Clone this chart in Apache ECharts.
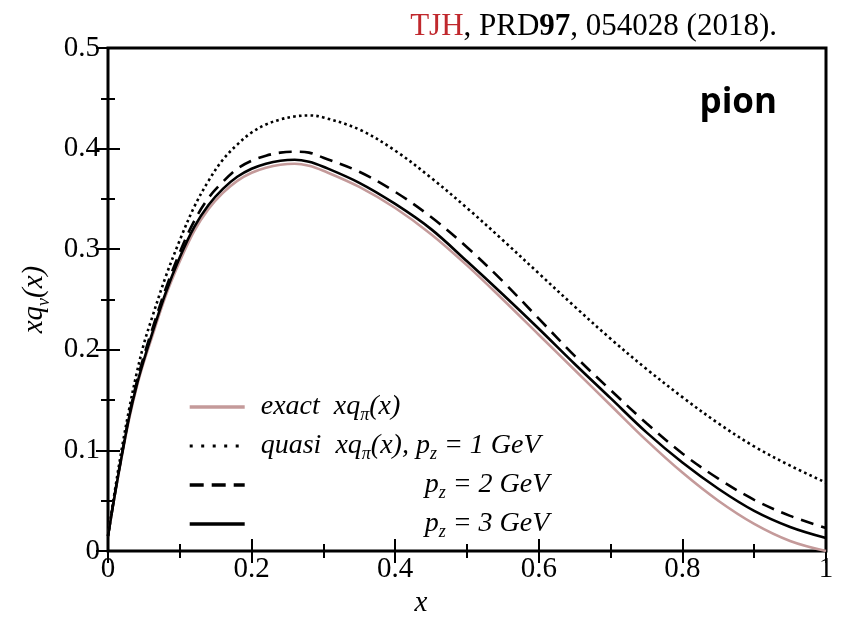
<!DOCTYPE html>
<html><head><meta charset="utf-8">
<script src="https://cdn.jsdelivr.net/npm/echarts@6/dist/echarts.min.js"></script>
<style>html,body{margin:0;padding:0;background:#fff}#c{width:843px;height:623px}</style>
</head><body><div id="c"></div><script>
const xs = [0,0.01,0.02,0.03,0.04,0.05,0.06,0.08,0.10,0.12,0.14,0.16,0.18,0.20,0.22,0.24,0.26,0.28,0.30,0.35,0.40,0.45,0.50,0.55,0.60,0.65,0.70,0.75,0.80,0.85,0.90,0.95,1.00];
const exactVals = [0.015,0.058,0.097,0.133,0.163,0.188,0.210,0.253,0.288,0.318,0.340,0.356,0.368,0.376,0.381,0.384,0.385,0.383,0.378,0.362,0.341,0.315,0.284,0.250,0.215,0.180,0.145,0.110,0.078,0.050,0.027,0.010,0.000];
const pz1Vals = [0.015,0.062,0.105,0.143,0.177,0.206,0.229,0.272,0.309,0.342,0.368,0.389,0.404,0.416,0.424,0.429,0.432,0.433,0.431,0.419,0.398,0.371,0.341,0.309,0.276,0.243,0.211,0.181,0.153,0.127,0.104,0.085,0.068];
const pz2Vals = [0.015,0.059,0.099,0.137,0.168,0.194,0.217,0.260,0.297,0.328,0.351,0.367,0.380,0.388,0.393,0.396,0.397,0.396,0.391,0.377,0.357,0.332,0.302,0.268,0.231,0.194,0.160,0.127,0.097,0.072,0.051,0.035,0.023];
const pz3Vals = [0.015,0.058,0.098,0.135,0.165,0.190,0.213,0.256,0.292,0.322,0.344,0.360,0.372,0.380,0.385,0.388,0.389,0.387,0.382,0.366,0.345,0.320,0.288,0.255,0.221,0.186,0.152,0.118,0.088,0.062,0.040,0.024,0.013];
const xTicks = ['0','0.2','0.4','0.6','0.8','1'];
const yTicks = ['0','0.1','0.2','0.3','0.4','0.5'];

const pairs = v => xs.map((x,i)=>[x, v[i]]);
const SERIF = '"Liberation Serif", "Times New Roman", serif';
const tickFmtX = v => xTicks[Math.round(v/0.2)] ?? '';
const tickFmtY = v => yTicks[Math.round(v/0.1)] ?? '';

const baseTick = {show:true, inside:true, length:12, lineStyle:{color:'#000', width:2}};
const minor = {show:true, splitNumber:2, length:7, lineStyle:{color:'#000', width:2}};
const labelStyle = {color:'#000', fontFamily:SERIF, fontSize:29};

const legRich = {
  t:{fontFamily:SERIF, fontStyle:'italic', fontSize:28, lineHeight:34, color:'#000'},
  s:{fontFamily:SERIF, fontStyle:'italic', fontSize:18, lineHeight:16, verticalAlign:'bottom', color:'#000'},
  g:{width:11}, G:{width:175}
};
const legendText = {
  'exact': '{g|}{t|exact  xq}{s|π}{t|(x)}',
  'pz1': '{g|}{t|quasi  xq}{s|π}{t|(x), p}{s|z}{t| = 1 GeV}',
  'pz2': '{G|}{t|p}{s|z}{t| = 2 GeV}',
  'pz3': '{G|}{t|p}{s|z}{t| = 3 GeV}'
};

const chart = echarts.init(document.getElementById('c'), null, {renderer:'canvas'});
chart.setOption({
  animation:false,
  backgroundColor:'#fff',
  title:{
    text:'{r|TJH}{n|, PRD}{b|97}{n|, 054028 (2018).}',
    right:61, top:6,
    textStyle:{fontWeight:'normal', rich:{
      r:{color:'#c0282d', fontFamily:SERIF, fontSize:31, fontWeight:'normal'},
      n:{color:'#000', fontFamily:SERIF, fontSize:31, fontWeight:'normal'},
      b:{color:'#000', fontFamily:SERIF, fontSize:31, fontWeight:'bold'}
    }}
  },
  graphic:[{type:'text', right:66, top:86, style:{text:'pion', font:'bold 35px "Open Sans"', fill:'#000'}}],
  grid:{left:108, right:17, top:48, bottom:60, show:true, borderColor:'#000', borderWidth:3, backgroundColor:'transparent'},
  legend:{
    left:183, top:388, orient:'vertical', itemWidth:55, itemHeight:14, itemGap:8,
    selectedMode:false,
    itemStyle:{opacity:0},
    lineStyle:{width:3.4},
    data:[
      {name:'exact'},
      {name:'pz1', lineStyle:{width:3, type:[3,8.5]}},
      {name:'pz2', lineStyle:{width:3.4, type:[14,8]}},
      {name:'pz3'}
    ],
    formatter: n => legendText[n],
    textStyle:{rich:legRich}
  },
  xAxis:[
    {type:'value', min:0, max:1, interval:0.2, position:'bottom',
     axisLine:{show:false}, axisTick:baseTick, minorTick:minor, splitLine:{show:false},
     axisLabel:Object.assign({margin:4, formatter:tickFmtX}, labelStyle),
     name:'x', nameLocation:'middle', nameGap:30,
     nameTextStyle:{fontFamily:SERIF, fontStyle:'italic', fontSize:29, color:'#000', padding:[0,92,0,0]}},
    {type:'value', min:0, max:1, interval:0.2, position:'top',
     axisLine:{show:false}, axisTick:baseTick, minorTick:minor, splitLine:{show:false}, axisLabel:{show:false}}
  ],
  yAxis:[
    {type:'value', min:0, max:0.5, interval:0.1, position:'left',
     axisLine:{show:false}, axisTick:baseTick, minorTick:minor, splitLine:{show:false},
     axisLabel:Object.assign({margin:8, formatter:tickFmtY}, labelStyle),
     name:'{i|xq}{s|v}{i|(x)}', nameLocation:'middle', nameRotate:90, nameGap:48,
     nameTextStyle:{rich:{
       i:{fontFamily:SERIF, fontStyle:'italic', fontSize:29, lineHeight:36, color:'#000'},
       s:{fontFamily:SERIF, fontStyle:'italic', fontSize:18, lineHeight:16, verticalAlign:'bottom', color:'#000'}
     }}},
    {type:'value', min:0, max:0.5, interval:0.1, position:'right',
     axisLine:{show:false}, axisTick:baseTick, minorTick:minor, splitLine:{show:false}, axisLabel:{show:false}}
  ],
  series:[
    {name:'exact', type:'line', data:pairs(exactVals), showSymbol:false, symbol:'none', smooth:0.35,
     lineStyle:{color:'#c49a9a', width:2.6}, itemStyle:{color:'#c49a9a'}},
    {name:'pz1', type:'line', data:pairs(pz1Vals), showSymbol:false, symbol:'none', smooth:0.35,
     lineStyle:{color:'#000', width:2.6, type:[2.6,3.2]}, itemStyle:{color:'#000'}},
    {name:'pz2', type:'line', data:pairs(pz2Vals), showSymbol:false, symbol:'none', smooth:0.35,
     lineStyle:{color:'#000', width:2.6, type:[13,8]}, itemStyle:{color:'#000'}},
    {name:'pz3', type:'line', data:pairs(pz3Vals), showSymbol:false, symbol:'none', smooth:0.35,
     lineStyle:{color:'#000', width:2.6}, itemStyle:{color:'#000'}}
  ]
});
</script></body></html>
